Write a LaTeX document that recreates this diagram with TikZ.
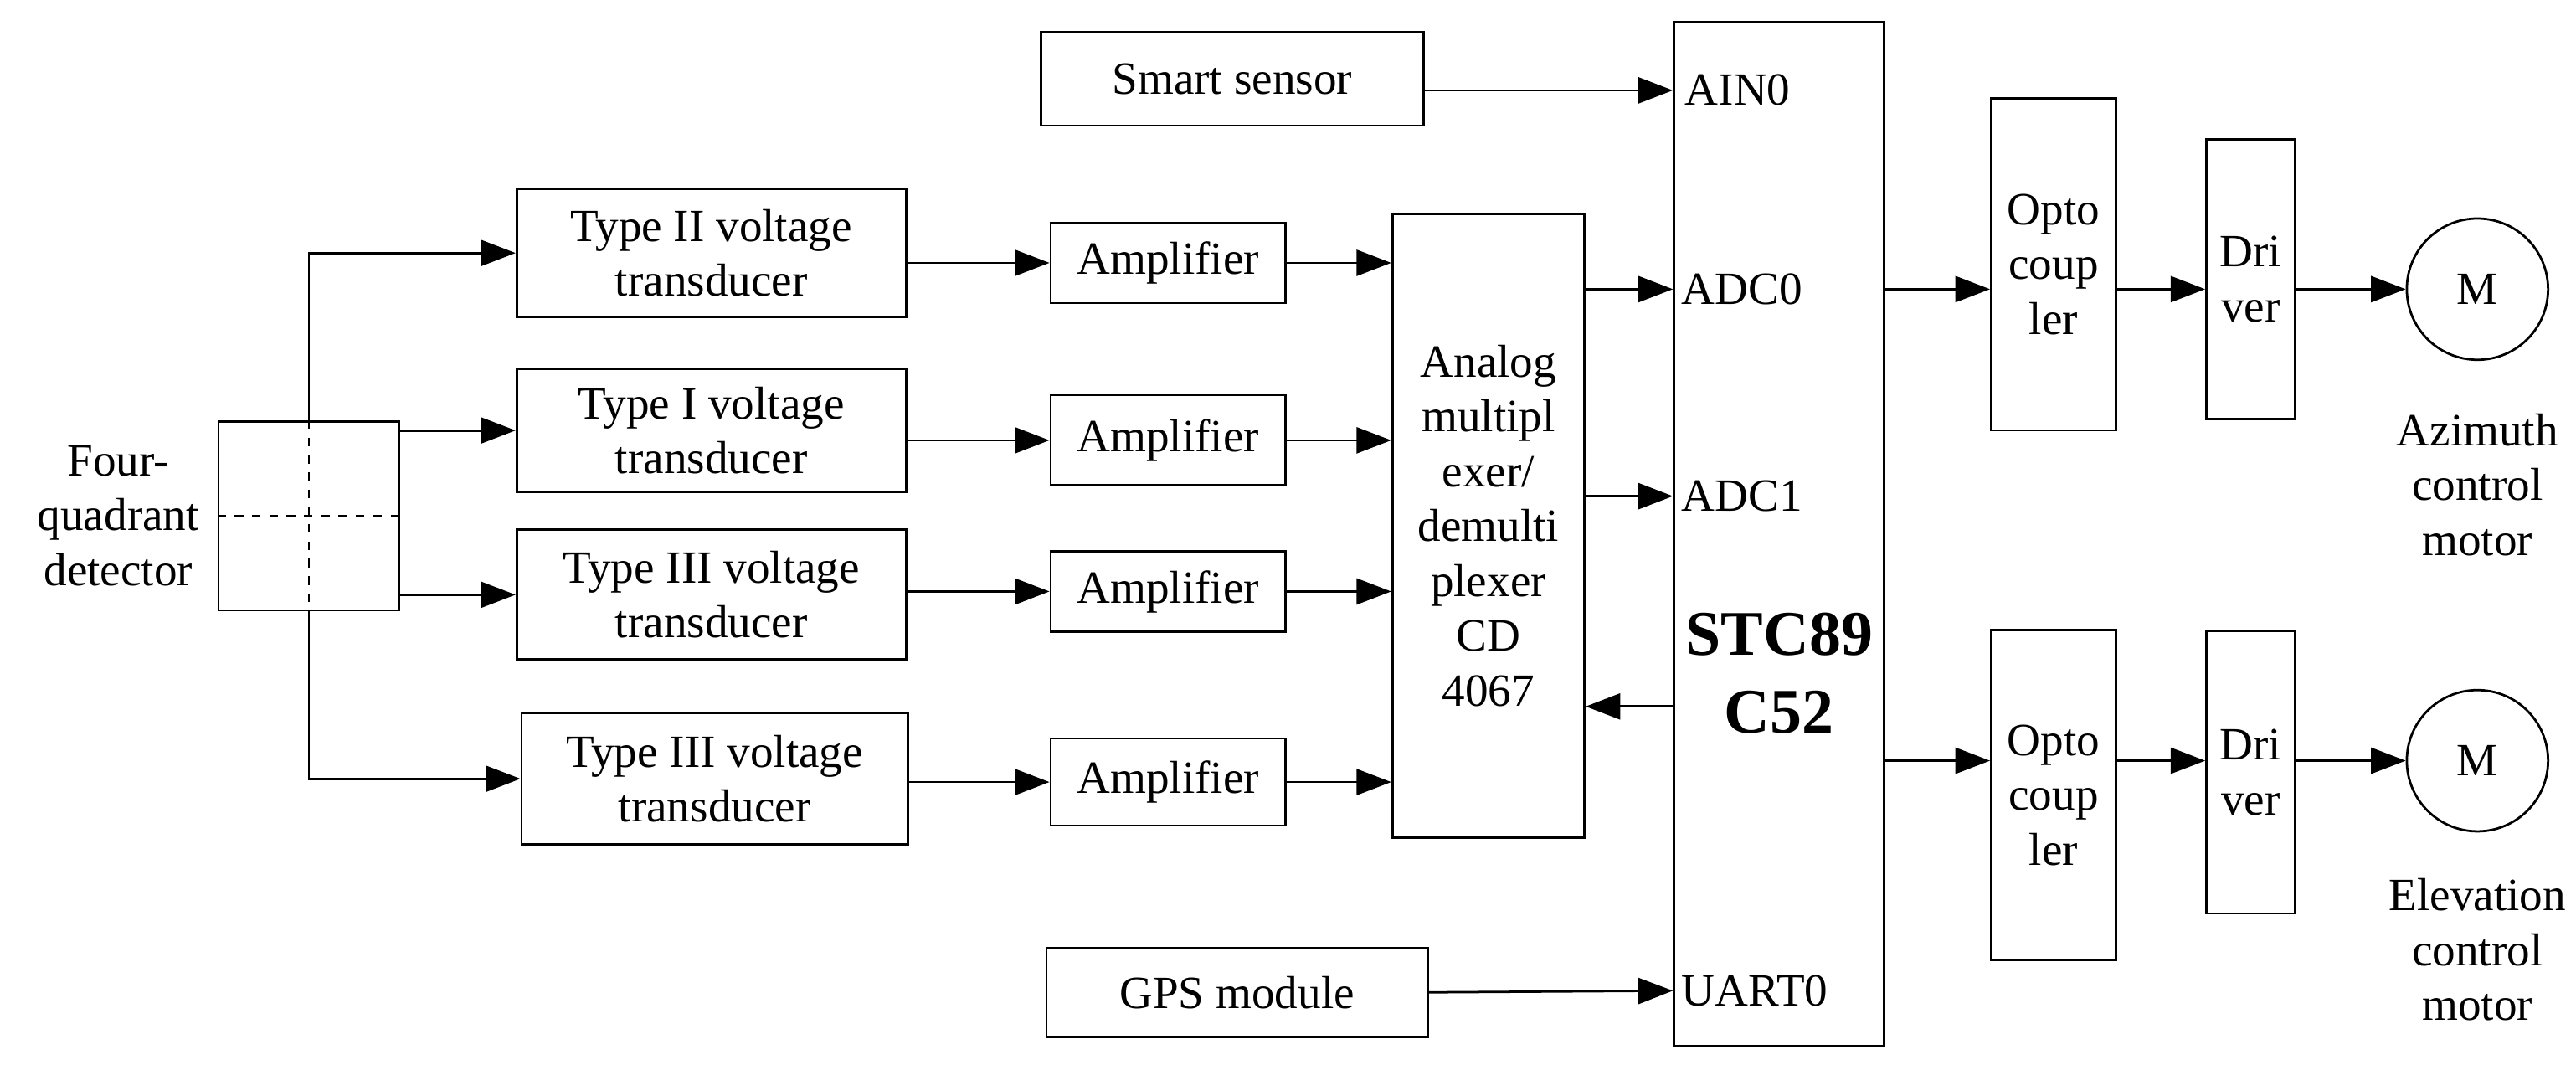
\documentclass[tikz,border=0pt]{standalone}
\usepackage{fontspec}
\setmainfont{Liberation Serif}
\usetikzlibrary{arrows.meta, calc, positioning}
\tikzset{%
  every path/.style={thick},
    edge/.style={%
        ->,
        >={Triangle[length=12pt, width=9pt]},
    },
    block/.style={%
        rectangle,
        draw=black, thick,
        inner sep=0pt,
        font=\fontsize{16}{19}\selectfont,
        align=center,
    },
    lbl/.style={%
        font=\fontsize{16}{19}\selectfont,
        align=center,
        inner sep=0pt,
    },
}

\begin{document}
\begin{tikzpicture}[x=0.02cm, y=-0.02cm]
	\useasboundingbox (0,0) rectangle (1568,651);

	% detector
	\node [block, minimum width=2.2cm, minimum height=2.3cm] at (188,314) (det) {};
	\draw[dashed, thin] (det.north) -- (det.south);
	\draw[dashed, thin] (det.west) -- (det.east);
	\node [lbl] at (72,314) (det_lbl) {Four-\\quadrant\\detector};

	% transducers
	\node [block, minimum width=4.74cm, minimum height=1.56cm] at (433,154) (tr1) {Type II voltage\\transducer};
	\node [block, minimum width=4.74cm, minimum height=1.5cm] at (433,262) (tr2) {Type I voltage\\transducer};
	\node [block, minimum width=4.74cm, minimum height=1.58cm] at (433,362) (tr3) {Type III voltage\\transducer};
	\node [block, minimum width=4.7cm, minimum height=1.6cm] at (435,474) (tr4) {Type III voltage\\transducer};

	% amplifiers
	\node [block, minimum width=2.86cm, minimum height=0.98cm] at (711,160) (amp1) {Amplifier};
	\node [block, minimum width=2.86cm, minimum height=1.1cm] at (711,268) (amp2) {Amplifier};
	\node [block, minimum width=2.86cm, minimum height=0.98cm] at (711,360) (amp3) {Amplifier};
	\node [block, minimum width=2.86cm, minimum height=1.06cm] at (711,476) (amp4) {Amplifier};

	% multiplexer and controller
	\node [block, minimum width=2.34cm, minimum height=7.6cm] at (906,320) (mux) {Analog\\multipl\\exer/\\demulti\\plexer\\CD\\4067};
	\node [block, minimum width=2.56cm, minimum height=12.46cm] at (1083,325) (mcu) {};
	\node [lbl, font=\fontsize{22}{27}\selectfont\bfseries] at (1083,410) (mcu_lbl) {STC89\\C52};
	\node [lbl, anchor=west] at (1025,55) (ain0) {AIN0};
	\node [lbl, anchor=west] at (1023,176) (adc0) {ADC0};
	\node [lbl, anchor=west] at (1023,302) (adc1) {ADC1};
	\node [lbl, anchor=west] at (1023,603) (uart0) {UART0};

	\node [block, minimum width=4.66cm, minimum height=1.14cm] at (750,48) (sensor) {Smart sensor};
	\node [block, minimum width=4.64cm, minimum height=1.08cm] at (753,604) (gps) {GPS module};

	% output chains
	\node [block, minimum width=1.52cm, minimum height=4.04cm] at (1250,161) (opt1) {Opto\\coup\\ler};
	\node [block, minimum width=1.52cm, minimum height=4.02cm] at (1250,484) (opt2) {Opto\\coup\\ler};
	\node [block, minimum width=1.08cm, minimum height=3.4cm] at (1370,170) (drv1) {Dri\\ver};
	\node [block, minimum width=1.08cm, minimum height=3.44cm] at (1370,470) (drv2) {Dri\\ver};
	\node [block, circle, minimum size=1.72cm] at (1508,176) (mot1) {M};
	\node [block, circle, minimum size=1.72cm] at (1508,463) (mot2) {M};
	\node [lbl] at (1508,295) (mot1_lbl) {Azimuth\\control\\motor};
	\node [lbl] at (1508,578) (mot2_lbl) {Elevation\\control\\motor};

	\draw[edge] (det.north) |- (tr1.west);
	\draw[edge] (det.east |- tr2) -- (tr2.west);
	\draw[edge] (det.east |- tr3) -- (tr3.west);
	\draw[edge] (det.south) |- (tr4.west);

	\draw[edge] (tr1.east |- amp1) -- (amp1.west);
	\draw[edge] (tr2.east |- amp2) -- (amp2.west);
	\draw[edge] (tr3.east |- amp3) -- (amp3.west);
	\draw[edge] (tr4.east |- amp4) -- (amp4.west);

	\draw[edge] (amp1.east) -- (mux.west |- amp1);
	\draw[edge] (amp2.east) -- (mux.west |- amp2);
	\draw[edge] (amp3.east) -- (mux.west |- amp3);
	\draw[edge] (amp4.east) -- (mux.west |- amp4);

	\draw[edge] (mux.east |- adc0) -- (mcu.west |- adc0);
	\draw[edge] (mux.east |- adc1) -- (mcu.west |- adc1);
	\draw[edge] (mcu.west |- 0,430) -- (mux.east |- 0,430);
	\draw[edge] (sensor.east |- ain0) -- (mcu.west |- ain0);
	\draw[edge] (gps.east) -- (mcu.west |- uart0);

	\draw[edge] (mcu.east |- mot1) -- (opt1.west |- mot1);
	\draw[edge] (opt1.east |- mot1) -- (drv1.west |- mot1);
	\draw[edge] (drv1.east |- mot1) -- (mot1.west);
	\draw[edge] (mcu.east |- mot2) -- (opt2.west |- mot2);
	\draw[edge] (opt2.east |- mot2) -- (drv2.west |- mot2);
	\draw[edge] (drv2.east |- mot2) -- (mot2.west);
\end{tikzpicture}
\end{document}
